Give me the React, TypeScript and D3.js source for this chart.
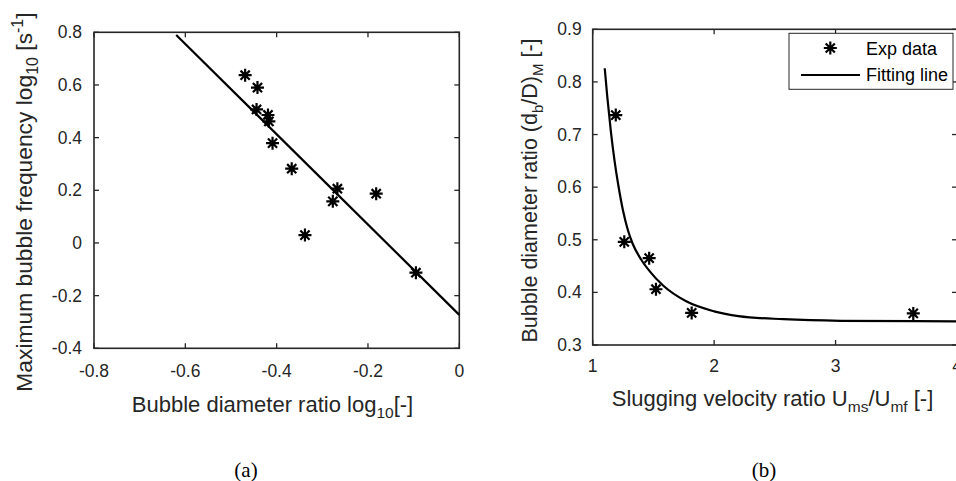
import React from "react";
import * as d3 from "d3";

// Panel (a) data
const A_X = [-0.469, -0.442, -0.444, -0.419, -0.417, -0.409, -0.367, -0.267, -0.277, -0.182, -0.338, -0.095];
const A_Y = [0.637, 0.590, 0.507, 0.486, 0.462, 0.379, 0.282, 0.206, 0.158, 0.187, 0.030, -0.113];
const FIT_A_X = [-0.62, 0];
const FIT_A_Y = [0.79, -0.273];
const A_XTICKS = [-0.8, -0.6, -0.4, -0.2, 0];
const A_YTICKS = [-0.4, -0.2, 0, 0.2, 0.4, 0.6, 0.8];

// Panel (b) data
const B_X = [1.19, 1.26, 1.465, 1.521, 1.815, 3.64];
const B_Y = [0.737, 0.496, 0.465, 0.406, 0.361, 0.36];
const FIT_B_X = [1.099, 1.12, 1.15, 1.18, 1.21, 1.25, 1.29, 1.33, 1.4, 1.47, 1.58, 1.77, 2.0, 2.2, 2.57, 3.04, 4.0];
const FIT_B_Y = [0.826, 0.772, 0.705, 0.65, 0.605, 0.555, 0.518, 0.492, 0.462, 0.44, 0.413, 0.383, 0.364, 0.355, 0.349, 0.346, 0.345];
const B_XTICKS = [1, 2, 3, 4];
const B_YTICKS = [0.3, 0.4, 0.5, 0.6, 0.7, 0.8, 0.9];

const AX = "#262626";
const FONT = "'Liberation Sans', Arial, Helvetica, sans-serif";
const TICK_FS = 17.5;
const LABEL_FS = 22;
const TL = 5;

function Star({ x, y, r = 6.5 }: { x: number; y: number; r?: number }) {
  const d = r * 0.7071;
  const p = `M${x - r},${y}L${x + r},${y}M${x},${y - r}L${x},${y + r}M${x - d},${y - d}L${x + d},${y + d}M${x - d},${y + d}L${x + d},${y - d}`;
  return <path d={p} stroke="#000" strokeWidth={2.2} fill="none" />;
}

function Frame({ x, y, xt, yt, fmtX, fmtY, xLabelY, yLabelGap }: any) {
  const [x0, x1] = x.range();
  const [y0, y1] = y.range(); // y0 bottom, y1 top
  return (
    <g>
      {xt.map((t: number) => (
        <g key={"x" + t}>
          <line x1={x(t)} x2={x(t)} y1={y0} y2={y0 - TL} stroke={AX} strokeWidth={1.3} />
          <line x1={x(t)} x2={x(t)} y1={y1} y2={y1 + TL} stroke={AX} strokeWidth={1.3} />
          <text x={x(t)} y={xLabelY} textAnchor="middle" fontSize={TICK_FS} fill={AX} fontFamily={FONT}>
            {fmtX(t)}
          </text>
        </g>
      ))}
      {yt.map((t: number) => (
        <g key={"y" + t}>
          <line x1={x0} x2={x0 + TL} y1={y(t)} y2={y(t)} stroke={AX} strokeWidth={1.3} />
          <line x1={x1} x2={x1 - TL} y1={y(t)} y2={y(t)} stroke={AX} strokeWidth={1.3} />
          <text x={x0 - yLabelGap} y={y(t) + 6} textAnchor="end" fontSize={TICK_FS} fill={AX} fontFamily={FONT}>
            {fmtY(t)}
          </text>
        </g>
      ))}
      <rect x={x0} y={y1} width={x1 - x0} height={y0 - y1} fill="none" stroke={AX} strokeWidth={1.6} />
    </g>
  );
}

const fmt1 = (t: number) => (t === 0 ? "0" : (t < 0 ? "-" : "") + Math.abs(t).toFixed(1));

export default function App() {
  // Panel (a)
  const xa = d3.scaleLinear().domain([-0.8, 0]).range([94, 459.3]);
  const ya = d3.scaleLinear().domain([-0.4, 0.8]).range([348.3, 32.3]);
  // Panel (b)
  const xb = d3.scaleLinear().domain([1, 4]).range([592.7, 957]);
  const yb = d3.scaleLinear().domain([0.3, 0.9]).range([345, 29.3]);

  const lineA = d3.line<number>().x((v) => xa(v)).y((_, i) => ya(FIT_A_Y[i]));
  const lineB = d3
    .line<number>()
    .x((v) => xb(v))
    .y((_, i) => yb(FIT_B_Y[i]))
    .curve(d3.curveMonotoneX);

  const fmtBx = (t: number) => String(t);

  return (
    <svg width={956} height={481} style={{ position: "absolute", left: 0, top: 0, background: "#fff" }}>
      <rect x={0} y={0} width={956} height={481} fill="#fff" />
      {/* Panel (a) */}
      <Frame x={xa} y={ya} xt={A_XTICKS} yt={A_YTICKS} fmtX={fmt1} fmtY={fmt1} xLabelY={377} yLabelGap={12} />
      <path d={lineA(FIT_A_X) || ""} stroke="#000" strokeWidth={2.2} fill="none" />
      {A_X.map((v, i) => (
        <Star key={"a" + i} x={xa(v)} y={ya(A_Y[i])} />
      ))}
      <text x={272.5} y={412} textAnchor="middle" fontSize={LABEL_FS} fill={AX} fontFamily={FONT}>
        Bubble diameter ratio log
        <tspan fontSize={15.5} dy={6}>10</tspan>
        <tspan dy={-6}>[-]</tspan>
      </text>
      <text transform="translate(31.5,202) rotate(-90)" textAnchor="middle" fontSize={22.8} fill={AX} fontFamily={FONT}>
        Maximum bubble frequency log
        <tspan fontSize={16} dy={6}>10</tspan>
        <tspan dy={-6}> [s</tspan>
        <tspan fontSize={16} dy={-9}>-1</tspan>
        <tspan dy={9}>]</tspan>
      </text>
      <text x={246} y={477} textAnchor="middle" fontSize={21} fill="#000" fontFamily="'Liberation Serif', 'Times New Roman', serif">
        (a)
      </text>

      {/* Panel (b) */}
      <Frame x={xb} y={yb} xt={B_XTICKS} yt={B_YTICKS} fmtX={fmtBx} fmtY={fmt1} xLabelY={372} yLabelGap={11} />
      <path d={lineB(FIT_B_X) || ""} stroke="#000" strokeWidth={2.2} fill="none" />
      {B_X.map((v, i) => (
        <Star key={"b" + i} x={xb(v)} y={yb(B_Y[i])} />
      ))}
      <text x={772.5} y={406} textAnchor="middle" fontSize={LABEL_FS} fill={AX} fontFamily={FONT}>
        Slugging velocity ratio U
        <tspan fontSize={15.5} dy={6}>ms</tspan>
        <tspan dy={-6}>/U</tspan>
        <tspan fontSize={15.5} dy={6}>mf</tspan>
        <tspan dy={-6}> [-]</tspan>
      </text>
      <text transform="translate(536.5,190.5) rotate(-90)" textAnchor="middle" fontSize={21.5} fill={AX} fontFamily={FONT}>
        Bubble diameter ratio (d
        <tspan fontSize={15} dy={6}>b</tspan>
        <tspan dy={-6}>/D)</tspan>
        <tspan fontSize={15} dy={6}>M</tspan>
        <tspan dy={-6}> [-]</tspan>
      </text>
      <text x={764} y={477} textAnchor="middle" fontSize={21} fill="#000" fontFamily="'Liberation Serif', 'Times New Roman', serif">
        (b)
      </text>

      {/* Legend */}
      <rect x={789} y={33.3} width={164} height={56} fill="#fff" stroke={AX} strokeWidth={1} />
      <Star x={830.3} y={48} />
      <text x={866} y={55} fontSize={18} fill="#000" fontFamily={FONT}>
        Exp data
      </text>
      <line x1={801} x2={860} y1={75} y2={75} stroke="#000" strokeWidth={2.2} />
      <text x={866} y={81} fontSize={18} fill="#000" fontFamily={FONT}>
        Fitting line
      </text>
    </svg>
  );
}
